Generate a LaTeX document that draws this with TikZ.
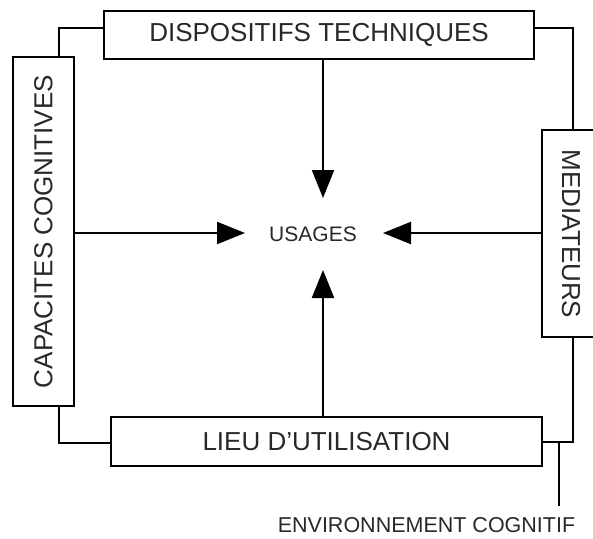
\documentclass[tikz,border=0pt]{standalone}
\usepackage{fontspec}
\setmainfont{Liberation Sans}
\usetikzlibrary{arrows.meta}
\definecolor{txt}{RGB}{40,40,40}
\begin{document}
\begin{tikzpicture}[x=1pt,y=-1pt,
  box/.style={draw=black, line width=2.2pt, fill=white, inner sep=0pt,
    font=\fontsize{26}{30}\selectfont, text=txt},
  label/.style={text=txt, inner sep=0pt},
  wire/.style={draw=black, line width=2.2pt},
  arr/.style={wire, -{Triangle[length=28pt,width=22pt]}},
]
\useasboundingbox (0,0) rectangle (593,538);

% junction points of the frame and arrow tips
\coordinate (tl) at (59,28);
\coordinate (tr) at (573,28);
\coordinate (bl) at (59,443);
\coordinate (br) at (573,442);
\coordinate (e1) at (559,442);
\coordinate (e2) at (559,506);
\coordinate (ta) at (323,198);
\coordinate (la) at (245,233);
\coordinate (ra) at (383,233);
\coordinate (ba) at (323,270);

% the four factors
\node[box, minimum width=430pt, minimum height=48pt] (top) at (319,35) {DISPOSITIFS TECHNIQUES};
\node[box, minimum width=61pt, minimum height=349pt] (left) at (43.5,231.5) {\rotatebox{90}{CAPACITES COGNITIVES}};
% this box runs past the right margin, so its right side is left open
\node[box, draw=none, minimum width=60pt, minimum height=205pt, anchor=west] (right) at (542,233.5) {};
\draw[wire] (right.north east) -- (right.north west) -- (right.south west) -- (right.south east);
\node[label, font=\fontsize{26}{30}\selectfont] (medtxt) at (571,234) {\rotatebox{-90}{MEDIATEURS}};
\node[box, minimum width=431pt, minimum height=49pt] (bottom) at (326.5,441.5) {LIEU D’UTILISATION};

\node[label, font=\fontsize{21}{25}\selectfont] (usages) at (313,234) {USAGES};
\node[label, font=\fontsize{21.5}{25}\selectfont] (env) at (426.5,525) {ENVIRONNEMENT COGNITIF};

% surrounding frame
\draw[wire] (top.west |- tl) -| (tl |- left.north);
\draw[wire] (top.east |- tr) -| (tr |- right.north);
\draw[wire] (bl |- left.south) |- (bottom.west |- bl);
\draw[wire] (bottom.east |- br) -| (br |- right.south);
\draw[wire] (e1) -- (e2);

% influences on the usages
\draw[arr] (top.south -| ta) -- (ta);
\draw[arr] (left.east |- la) -- (la);
\draw[arr] (right.west |- ra) -- (ra);
\draw[arr] (bottom.north -| ba) -- (ba);
\end{tikzpicture}
\end{document}
